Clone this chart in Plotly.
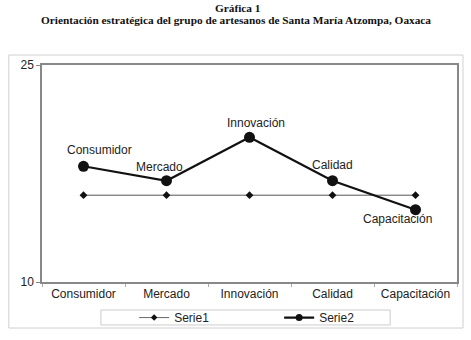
import plotly.graph_objects as go

categories = ["Consumidor", "Mercado", "Innovación", "Calidad", "Capacitación"]
serie1 = [16, 16, 16, 16, 16]
serie2 = [18, 17, 20, 17, 15]
serie2_labels = ["Consumidor", "Mercado", "Innovación", "Calidad", "Capacitación"]
y_ticks = [10, 25]
title_line1 = "Gráfica 1"
title_line2 = "Orientación estratégica del grupo de artesanos de Santa María Atzompa, Oaxaca"

# label offsets in pixels (style)
label_dx = [16, -7, 6, 0, -18]
label_dy = [16, 14, 14, 16, -9]

fig = go.Figure()
fig.add_trace(go.Scatter(
    x=categories, y=serie1, name="Serie1", mode="lines+markers", showlegend=False,
    line=dict(color="#555555", width=1),
    marker=dict(symbol="diamond", size=6, color="#111111"),
))
fig.add_trace(go.Scatter(
    x=categories, y=serie2, name="Serie2", mode="lines+markers", showlegend=False,
    line=dict(color="#111111", width=2.2),
    marker=dict(symbol="circle", size=11, color="#111111"),
))
# legend entries
fig.add_trace(go.Scatter(
    x=[None], y=[None], name="Serie1", mode="lines+markers",
    line=dict(color="#666666", width=1),
    marker=dict(symbol="diamond", size=5, color="#111111"),
))
fig.add_trace(go.Scatter(
    x=[None], y=[None], name="Serie2", mode="lines+markers",
    line=dict(color="#111111", width=2.2),
    marker=dict(symbol="circle", size=7, color="#111111"),
))

annotations = [
    dict(text="<b>" + title_line1 + "</b>", xref="paper", yref="paper", x=0.472, y=1.263,
         xanchor="center", yanchor="middle", showarrow=False,
         font=dict(family="Liberation Serif, Times New Roman", size=11.3, color="#111111")),
    dict(text="<b>" + title_line2 + "</b>", xref="paper", yref="paper", x=0.467, y=1.207,
         xanchor="center", yanchor="middle", showarrow=False,
         font=dict(family="Liberation Serif, Times New Roman", size=11.3, color="#111111")),
]
for c, v, t, dx, dy in zip(categories, serie2, serie2_labels, label_dx, label_dy):
    annotations.append(dict(
        x=c, y=v, text=t, showarrow=False, xanchor="center", yanchor="middle",
        xshift=dx, yshift=dy,
        font=dict(family="Liberation Sans, Arial", size=12, color="#222222"),
    ))

fig.update_layout(
    width=471, height=340,
    margin=dict(l=42, r=14, t=65, b=58, autoexpand=False),
    paper_bgcolor="white", plot_bgcolor="white",
    font=dict(family="Liberation Sans, Arial", size=12, color="#222222"),
    showlegend=True,
    legend=dict(
        orientation="h", x=0.222, xanchor="left", y=-0.164, yanchor="middle",
        borderwidth=0, entrywidth=100, itemsizing="trace",
        font=dict(size=12, color="#222222"), itemwidth=30, bgcolor="rgba(0,0,0,0)",
    ),
    annotations=annotations,
    shapes=[
        dict(type="rect", xref="paper", yref="paper", x0=-0.080, x1=1.0145, y0=-0.212, y1=1.046,
             line=dict(color="#d0d0d0", width=1), layer="below"),
        dict(type="rect", xref="paper", yref="paper", x0=0.142, x1=0.839, y0=-0.198, y1=-0.129,
             line=dict(color="#cccccc", width=1), layer="below"),
    ],
)
fig.update_xaxes(
    type="category", range=[-0.5, 4.5], showline=True, linecolor="#888888", linewidth=1.5,
    mirror=True, ticks="outside", tickson="boundaries", ticklen=3, tickcolor="#aaaaaa",
    showgrid=False, tickfont=dict(size=12, color="#222222"), automargin=False,
)
fig.update_yaxes(
    range=[10, 25], tickvals=y_ticks, showline=True, linecolor="#888888", linewidth=1.5,
    mirror=True, ticks="outside", ticklen=4, tickcolor="#888888", showgrid=False,
    zeroline=False, tickfont=dict(size=12, color="#222222"), automargin=False,
)
fig.write_html("out.html", config={"displayModeBar": False},
               post_script="document.body.style.margin='0';")
